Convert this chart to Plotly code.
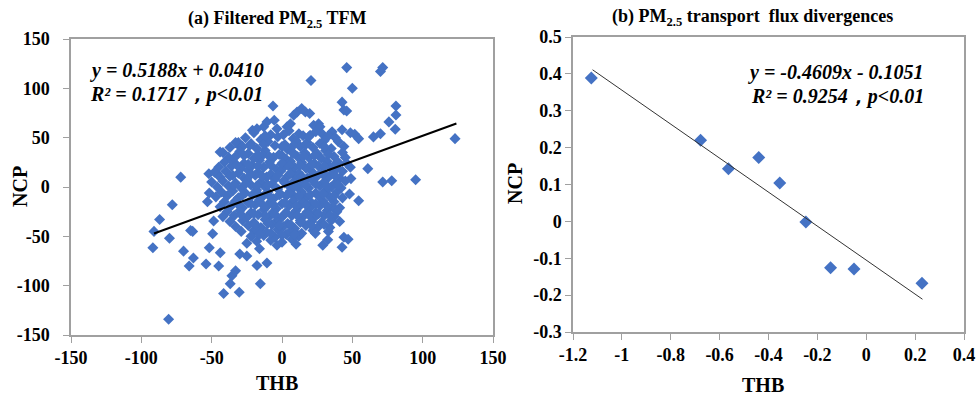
import plotly.graph_objects as go

# ---------------- data: panel (a) ----------------
# outer / sparse points
thb_a_outer = [46, 71.6, 70, 20.6, 50, -6.4, 81, 81, 76, 80.5, 42.7, 44, 46, 42.7, 48.6, 51.7, 54.5,
               65, 70, 123, 61, 71.6, 78, 95, 54.5, 48, 49, 48.6, 44, 42.7, 47, 33, 32.5, 29, 23.7,
               10, 10, -3.6, -10.7, -15.4, -17.8, -16, -25, -25, -30, -30.4, -41.5, -36.8, -35.6,
               -33, -45, -43.9, -51.7, -54, -63, -66, -65, -63.5, -70, -80, -91.8, -91, -87, -78,
               -72, -80.6, -49.3, -48.6, -52, -53, -51.7, -46, -44, -31, -29.6, -21, -17.8, -13,
               -10.7, -5.5, -3.6, 3.6, 6, 8.3, 10.7, 14, 16.6, 19.7, 22.5, 26, 27, 28.5, 35.6, 20]
ncp_a_outer = [121, 121, 117, 108, 100, 82, 82, 73, 66, 58.6, 86, 78, 77, 58, 55, 53.5, 49,
               50.8, 54, 49, 18.6, 5, 6.4, 7.4, -14, -7, 8.5, 20, -51, -61, -53, -45, -53.5, -59, -47,
               -58, -47, -59, -77, -98, -79.6, -62.6, -57, -70, -68, -106.7, -108, -98, -90,
               -85, -80, -66.6, -61.6, -78, -72, -80, -44, -45, -65, -52, -61.6, -45, -33, -18,
               10, -134, -47.4, -34.5, 13.5, -15, -6, 13.5, 35.5, 45, 40.6, 57.5, 59, 61,
               66, 67.7, 59, 61, 64, 72.8, 76, 79.6, 76, 74.5, 62.6, 64, 61, 54, 55.9, 52.5]

# dense core, read row by row (approximate)
thb_a_core = [
    -20, -8, 5, 12, 24, 33,
    -26, -15, -3, 8, 15, 30, 38,
    -33, -22, -10, 2, 10, 18, 27, 40,
    -37, -28, -18, -5, 4, 13, 22, 35, 44,
    -42, -30, -24, -12, -2, 7, 16, 25, 31, 43,
    -38, -33, -20, -14, -6, 3, 11, 19, 28, 37, 45,
    -41, -35, -27, -16, -9, 0, 6, 14, 23, 32, 40, 46,
    -45, -36, -29, -21, -13, -4, 2, 9, 17, 26, 34, 39,
    -48, -40, -31, -24, -17, -8, -1, 7, 12, 21, 29, 36, 43,
    -44, -37, -27, -19, -11, -5, 4, 10, 18, 25, 33, 41,
    -50, -42, -33, -25, -15, -7, 1, 8, 15, 22, 30, 38, 45,
    -46, -38, -29, -22, -12, -3, 5, 11, 19, 27, 35, 42,
    -43, -35, -26, -18, -10, -1, 6, 14, 24, 31, 39,
    -47, -39, -31, -21, -14, -6, 3, 9, 17, 26, 34, 43,
    -41, -33, -24, -16, -8, 0, 8, 15, 21, 29, 37,
    -44, -36, -28, -19, -11, -4, 5, 12, 20, 27, 36, 41,
    -39, -30, -22, -13, -6, 2, 10, 18, 24, 32, 39,
    -42, -34, -25, -17, -9, -1, 7, 15, 23, 30, 37,
    -37, -28, -20, -12, -4, 4, 13, 21, 28, 35, 41,
    -33, -24, -15, -7, 1, 9, 17, 26, 34,
    -29, -20, -11, -3, 6, 14, 22,
    -22, -13, -5, 3, 12,
    -18, -8, 0, 7,
]
ncp_a_core = [
    55, 53, 57, 54, 56, 52,
    50, 48, 51, 49, 52, 47, 50,
    45, 44, 46, 43, 47, 45, 44, 46,
    40, 41, 39, 42, 38, 41, 40, 39, 41,
    35, 36, 34, 37, 33, 36, 35, 34, 37, 35,
    30, 31, 29, 32, 30, 28, 31, 30, 29, 31, 30,
    25, 26, 24, 27, 25, 23, 26, 25, 24, 26, 25, 24,
    20, 21, 19, 22, 20, 18, 21, 20, 19, 21, 20, 19,
    15, 16, 14, 17, 15, 13, 16, 15, 14, 16, 15, 14, 16,
    10, 11, 9, 12, 10, 8, 11, 10, 9, 11, 10, 9,
    5, 6, 4, 7, 5, 3, 6, 5, 4, 6, 5, 4, 6,
    0, 1, -1, 2, 0, -2, 1, 0, -1, 1, 0, -1,
    -5, -4, -6, -3, -5, -7, -4, -5, -6, -4, -5,
    -10, -9, -11, -8, -10, -12, -9, -10, -11, -9, -10, -11,
    -15, -14, -16, -13, -15, -17, -14, -15, -16, -14, -15,
    -20, -19, -21, -18, -20, -22, -19, -20, -21, -19, -20, -21,
    -25, -24, -26, -23, -25, -27, -24, -25, -26, -24, -25,
    -30, -29, -31, -28, -30, -32, -29, -30, -31, -29, -30,
    -35, -34, -36, -33, -35, -37, -34, -35, -36, -34, -35,
    -40, -39, -41, -38, -40, -42, -39, -40, -41,
    -45, -44, -46, -43, -45, -47, -44,
    -50, -49, -51, -48, -50,
    -55, -54, -56, -53,
]
# second, offset layer of the densest centre
thb_a_inner = [
    -12, 1, 19,
    -23, -13, 0, 8, 17, 30,
    -27, -17, -9, 0, 8, 15, 23, 33,
    -32, -24, -17, -8, 0, 5, 13, 21, 30, 37,
    -35, -22, -14, -3, 6, 14, 22, 29, 38,
    -34, -26, -18, -10, 2, 9, 17, 24, 32, 40,
    -28, -17, -9, -2, 5, 12, 20, 29, 37,
    -31, -22, -13, -6, 2, 10, 17, 24, 32,
    -29, -20, -12, -5, 3, 11, 19, 26, 34,
    -19, -10, -2, 6, 13, 21, 30,
    -16, -8, 0, 9,
]
ncp_a_inner = [
    52, 53, 51,
    42, 43, 41, 42, 43, 41,
    32, 33, 31, 32, 34, 31, 32, 33,
    22, 23, 21, 22, 24, 21, 22, 23, 21, 22,
    12, 13, 11, 12, 14, 11, 12, 13, 11,
    2, 3, 1, 2, 4, 1, 2, 3, 1, 2,
    -8, -7, -9, -8, -6, -9, -8, -7, -9,
    -18, -17, -19, -18, -16, -19, -18, -17, -19,
    -28, -27, -29, -28, -26, -29, -28, -27, -29,
    -38, -37, -39, -38, -36, -39, -38,
    -48, -47, -49, -48,
]
thb_a = thb_a_outer + thb_a_core + thb_a_inner
ncp_a = ncp_a_outer + ncp_a_core + ncp_a_inner

fit_a_x = [-91, 124]
slope_a, icpt_a = 0.5188, 0.0410

# ---------------- data: panel (b) ----------------
thb_b = [-1.125, -0.678, -0.564, -0.440, -0.354, -0.247, -0.146, -0.050, 0.228]
ncp_b = [0.389, 0.220, 0.143, 0.173, 0.104, -0.002, -0.126, -0.129, -0.168]
fit_b_x = [-1.12, 0.23]
slope_b, icpt_b = -0.4609, -0.1051

ax_a_ticks = [-150, -100, -50, 0, 50, 100, 150]
ay_a_ticks = [-150, -100, -50, 0, 50, 100, 150]
bx_ticks = [-1.2, -1.0, -0.8, -0.6, -0.4, -0.2, 0.0, 0.2, 0.4]
bx_text = ["-1.2", "-1", "-0.8", "-0.6", "-0.4", "-0.2", "0", "0.2", "0.4"]
by_ticks = [-0.3, -0.2, -0.1, 0.0, 0.1, 0.2, 0.3, 0.4, 0.5]
by_text = ["-0.3", "-0.2", "-0.1", "0", "0.1", "0.2", "0.3", "0.4", "0.5"]

# ---------------- figure ----------------
W, H = 978, 396
def px(x):
    return x / W
def py(y):
    return 1 - y / H

FONT = "Liberation Serif"
BLUE = "#4472C4"

fig = go.Figure()
fig.add_trace(go.Scatter(x=thb_a, y=ncp_a, mode="markers", xaxis="x", yaxis="y",
                         marker=dict(symbol="diamond", size=8.5, color=BLUE, line=dict(width=0)),
                         showlegend=False))
fig.add_trace(go.Scatter(x=fit_a_x, y=[slope_a * v + icpt_a for v in fit_a_x], mode="lines",
                         xaxis="x", yaxis="y", line=dict(color="black", width=2), showlegend=False))
fig.add_trace(go.Scatter(x=thb_b, y=ncp_b, mode="markers", xaxis="x2", yaxis="y2",
                         marker=dict(symbol="diamond", size=10, color=BLUE, line=dict(width=0)),
                         showlegend=False))
fig.add_trace(go.Scatter(x=fit_b_x, y=[slope_b * v + icpt_b for v in fit_b_x], mode="lines",
                         xaxis="x2", yaxis="y2", line=dict(color="#333333", width=1), showlegend=False))

tickfont = dict(family=FONT, size=18, color="black", weight="bold")
common = dict(showgrid=False, zeroline=False, showline=True, linecolor="#a0a0a0", linewidth=1.5,
              mirror=True, ticks="outside", ticklen=6, tickcolor="#a0a0a0", tickfont=tickfont,
              automargin=False)

fig.update_layout(
    width=W, height=H, margin=dict(l=0, r=0, t=0, b=0, autoexpand=False),
    paper_bgcolor="white", plot_bgcolor="white",
    xaxis=dict(domain=[px(71), px(493)], range=[-150, 150], tickvals=ax_a_ticks,
               ticktext=[str(v) for v in ax_a_ticks], anchor="y", **common),
    yaxis=dict(domain=[py(335), py(39)], range=[-150, 150], tickvals=ay_a_ticks,
               ticktext=[str(v) for v in ay_a_ticks], anchor="x", ticklabelstandoff=10, **common),
    xaxis2=dict(domain=[px(573), px(964)], range=[-1.2, 0.4], tickvals=bx_ticks, ticktext=bx_text,
                anchor="y2", **common),
    yaxis2=dict(domain=[py(332), py(37)], range=[-0.3, 0.5], tickvals=by_ticks, ticktext=by_text,
                anchor="x2", **common),
)

def ann(x, y, text, size=18, xanchor="center", angle=0, italic=False):
    t = f"<b><i>{text}</i></b>" if italic else f"<b>{text}</b>"
    fig.add_annotation(x=px(x), y=py(y), xref="paper", yref="paper", text=t, showarrow=False,
                       xanchor=xanchor, yanchor="middle", textangle=angle,
                       font=dict(family=FONT, size=size, color="black"))

ann(277, 20, "(a) Filtered PM<sub>2.5</sub> TFM", size=18)
ann(752, 18, "(b) PM<sub>2.5</sub> transport  flux divergences", size=18)
ann(277, 383, "THB", size=20)
ann(763, 385, "THB", size=20)
ann(20, 187, "NCP", size=20, angle=-90)
ann(515, 184, "NCP", size=20, angle=-90)
ann(88, 70, "y = 0.5188x + 0.0410", size=20, xanchor="left", italic=True)
ann(88, 95, "R² = 0.1717，p<0.01", size=20, xanchor="left", italic=True)
ann(926, 72, "y = -0.4609x - 0.1051", size=20, xanchor="right", italic=True)
ann(926, 97, "R² = 0.9254，p<0.01", size=20, xanchor="right", italic=True)

fig.write_html("out.html", config={"displayModeBar": False},
               post_script="document.body.style.margin='0';document.body.style.overflow='hidden';")
